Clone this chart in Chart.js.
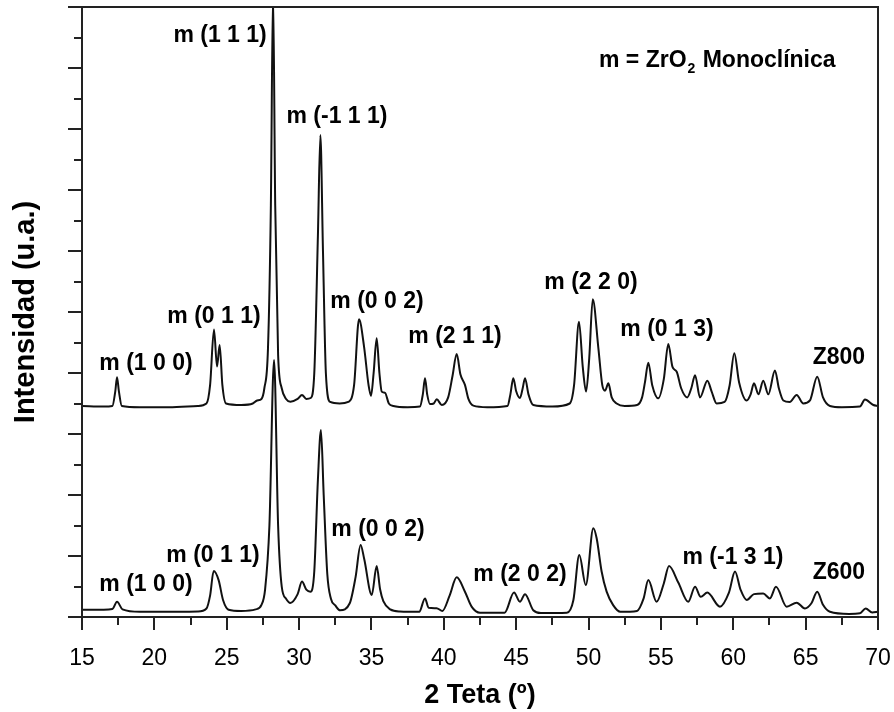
<!DOCTYPE html>
<html>
<head>
<meta charset="utf-8">
<script src="https://cdn.jsdelivr.net/npm/chart.js@4.4.1/dist/chart.umd.min.js"></script>
<style>
  html, body { margin: 0; padding: 0; background: #fff; }
  #wrap { width: 894px; height: 712px; position: relative; }
</style>
</head>
<body>
<div id="wrap"><canvas id="xrdChart"></canvas></div>
<script>
// 2 theta values and intensity (a.u.)
const z800X = [15.0, 16.5, 17.1, 17.3, 17.42, 17.55, 17.75, 19.0, 21.0, 23.0, 23.6, 23.85, 24.12, 24.33, 24.51, 24.7, 24.95,
  26.0, 26.8, 27.1, 27.4, 27.6, 27.85, 28.05, 28.2, 28.35, 28.55, 28.8, 29.1, 29.4, 29.9, 30.2, 30.5, 30.8,
  31.05, 31.3, 31.47, 31.65, 31.85, 32.15, 32.8, 33.4, 33.8, 34.14, 34.49, 34.8, 34.97, 35.15, 35.36, 35.55,
  35.71, 35.94, 36.2, 36.51, 37.5, 38.35, 38.55, 38.7, 38.85, 39.05, 39.3, 39.51, 39.86, 40.3, 40.6, 40.89,
  41.15, 41.46, 41.7, 42.04, 43.0, 44.4, 44.6, 44.8, 45.0, 45.26, 45.45, 45.61, 45.85, 46.18, 47.5, 48.7,
  49.0, 49.34, 49.6, 49.83, 50.05, 50.29, 50.68, 50.95, 51.14, 51.37, 51.6, 51.94, 52.5, 53.35, 53.7, 53.9,
  54.13, 54.4, 54.82, 55.2, 55.51, 55.8, 56.09, 56.4, 56.82, 57.1, 57.36, 57.7, 58.21, 58.5, 58.85, 59.4,
  59.75, 60.07, 60.4, 60.93, 61.2, 61.43, 61.74, 62.07, 62.42, 62.88, 63.15, 63.46, 63.9, 64.38, 64.84,
  65.3, 65.8, 66.2, 66.68, 67.5, 68.75, 69.1, 69.68, 70.0];
const z800Y = [6.92, 6.90, 6.92, 7.4, 7.86, 7.4, 6.92, 6.88, 6.88, 6.92, 7.0, 7.6, 9.43, 8.21, 8.92, 7.6, 7.0,
  6.95, 7.0, 7.1, 7.15, 7.5, 8.8, 13.5, 20.5, 13.5, 8.6, 7.5, 7.15, 7.06, 7.15, 7.28, 7.15, 7.18,
  8.0, 12.5, 15.8, 12.0, 8.0, 7.05, 7.0, 7.05, 7.6, 9.76, 8.86, 7.6, 7.25, 8.0, 9.14, 8.0,
  7.39, 7.35, 7.0, 6.92, 6.88, 6.9, 7.3, 7.83, 7.3, 6.98, 7.0, 7.14, 6.95, 7.2, 7.9, 8.62,
  7.95, 7.61, 7.15, 6.93, 6.88, 6.92, 7.3, 7.83, 7.4, 7.18, 7.5, 7.83, 7.3, 6.95, 6.9, 7.0,
  7.6, 9.68, 8.2, 7.39, 8.5, 10.42, 8.81, 7.6, 7.42, 7.66, 7.2, 7.0, 6.92, 6.95, 7.2, 7.7,
  8.34, 7.6, 7.17, 7.8, 8.95, 8.2, 8.04, 7.5, 7.2, 7.5, 7.93, 7.2, 7.75, 7.4, 7.0, 7.05,
  7.6, 8.65, 7.7, 7.1, 7.3, 7.66, 7.3, 7.75, 7.3, 8.08, 7.5, 7.1, 7.05, 7.28, 7.0,
  7.1, 7.88, 7.2, 6.92, 6.88, 6.9, 7.13, 6.95, 6.92];

const z600X = [15.0, 16.5, 17.1, 17.42, 17.8, 19.0, 21.0, 23.0, 23.6, 23.85, 24.1, 24.44, 24.75, 25.13, 26.0, 27.0,
  27.4, 27.65, 27.95, 28.27, 28.55, 28.8, 29.1, 29.39, 29.9, 30.2, 30.5, 30.78, 31.05, 31.3, 31.51, 31.7,
  31.95, 32.2, 32.5, 32.83, 33.5, 33.9, 34.25, 34.5, 35.02, 35.36, 35.6, 35.82, 36.3, 36.97, 38.3, 38.7,
  38.95, 39.5, 39.9, 40.4, 40.89, 41.46, 41.92, 42.5, 44.2, 44.85, 45.26, 45.61, 46.18, 46.7, 48.5, 48.95,
  49.36, 49.81, 50.33, 50.56, 50.9, 51.25, 51.7, 52.2, 53.35, 53.8, 54.13, 54.7, 55.2, 55.56, 56.2, 56.89,
  57.36, 57.75, 58.21, 59.08, 59.7, 60.12, 60.5, 60.93, 61.43, 62.07, 62.53, 62.95, 63.69, 64.38, 64.95,
  65.4, 65.8, 66.2, 66.68, 68.0, 68.75, 69.15, 69.6, 70.0];
const z600Y = [0.24, 0.24, 0.26, 0.50, 0.25, 0.17, 0.17, 0.18, 0.28, 0.7, 1.51, 1.21, 0.55, 0.24, 0.2, 0.25,
  0.4, 0.9, 3.0, 8.43, 3.0, 1.0, 0.6, 0.46, 0.75, 1.16, 0.9, 0.83, 1.5, 4.5, 6.13, 4.0,
  1.4, 0.6, 0.38, 0.22, 0.45, 1.3, 2.36, 1.9, 0.72, 1.67, 0.9, 0.52, 0.25, 0.18, 0.17, 0.61,
  0.3, 0.29, 0.2, 0.7, 1.30, 0.83, 0.34, 0.14, 0.14, 0.80, 0.50, 0.75, 0.22, 0.13, 0.14, 0.55,
  2.03, 1.05, 2.91, 2.58, 1.5, 0.83, 0.39, 0.17, 0.2, 0.6, 1.21, 0.50, 1.1, 1.67, 1.13, 0.50,
  0.99, 0.66, 0.80, 0.34, 0.8, 1.49, 0.9, 0.56, 0.75, 0.77, 0.61, 0.99, 0.34, 0.47, 0.28,
  0.45, 0.83, 0.4, 0.17, 0.1, 0.12, 0.28, 0.15, 0.17];

const xTicks = [15, 20, 25, 30, 35, 40, 45, 50, 55, 60, 65, 70];

// peak labels: text, 2 theta, intensity
const peakText = ["m (1 1 1)", "m (-1 1 1)", "m (1 0 0)", "m (0 1 1)", "m (0 0 2)", "m (2 1 1)", "m (2 2 0)", "m (0 1 3)", "Z800",
  "m (1 0 0)", "m (0 1 1)", "m (0 0 2)", "m (2 0 2)", "m (-1 3 1)", "Z600"];
const peakX = [24.54, 32.62, 19.42, 24.12, 35.38, 40.77, 50.17, 55.42, 67.30, 19.42, 24.05, 35.45, 45.26, 59.98, 67.30];
const peakY = [19.05, 16.39, 8.30, 9.84, 10.33, 9.18, 10.95, 9.41, 8.49, 1.05, 2.00, 2.85, 1.38, 1.93, 1.44];

const FONT = "'Liberation Sans', Arial, sans-serif";

const toPoints = (xs, ys) => xs.map((x, i) => ({ x: x, y: ys[i] }));

const framePlugin = {
  id: "frame",
  afterDraw(chart) {
    const { ctx, chartArea: a, scales: { x, y } } = chart;
    ctx.save();
    ctx.strokeStyle = "#222";
    ctx.lineWidth = 2;
    ctx.strokeRect(a.left, a.top, a.right - a.left, a.bottom - a.top);

    // x ticks, outward
    ctx.beginPath();
    for (let v = 15; v <= 70; v += 2.5) {
      const px = Math.round(x.getPixelForValue(v));
      const len = v % 5 === 0 ? 13 : 8;
      ctx.moveTo(px, a.bottom);
      ctx.lineTo(px, a.bottom + len);
    }
    // y ticks, outward
    for (let v = 0; v <= 20; v++) {
      const py = Math.round(y.getPixelForValue(v));
      const len = v % 2 === 0 ? 14 : 8;
      ctx.moveTo(a.left, py);
      ctx.lineTo(a.left - len, py);
    }
    ctx.stroke();

    // peak labels
    ctx.fillStyle = "#000";
    ctx.font = "bold 23px " + FONT;
    ctx.textAlign = "center";
    ctx.textBaseline = "middle";
    peakText.forEach((t, i) => {
      ctx.fillText(t, x.getPixelForValue(peakX[i]), y.getPixelForValue(peakY[i]));
    });

    // phase note
    let px = x.getPixelForValue(50.72);
    const py = y.getPixelForValue(18.23);
    ctx.textAlign = "left";
    ctx.fillText("m = ZrO", px, py);
    px += ctx.measureText("m = ZrO").width;
    ctx.font = "bold 14px " + FONT;
    ctx.fillText("2", px + 1, py + 8);
    px += ctx.measureText("2").width + 2;
    ctx.font = "bold 23px " + FONT;
    ctx.fillText(" Monoclínica", px, py);
    ctx.restore();
  }
};

const ctx = document.getElementById("xrdChart");

new Chart(ctx, {
  type: "line",
  data: {
    datasets: [
      {
        label: "Z800",
        data: toPoints(z800X, z800Y),
        borderColor: "#111",
        borderWidth: 2,
        pointRadius: 0,
        cubicInterpolationMode: "monotone",
        fill: false
      },
      {
        label: "Z600",
        data: toPoints(z600X, z600Y),
        borderColor: "#111",
        borderWidth: 2,
        pointRadius: 0,
        cubicInterpolationMode: "monotone",
        fill: false
      }
    ]
  },
  options: {
    responsive: true,
    maintainAspectRatio: false,
    animation: false,
    devicePixelRatio: 1,
    layout: { padding: { top: 7, right: 16, left: 0, bottom: 0 } },
    plugins: {
      legend: { display: false },
      tooltip: { enabled: false }
    },
    scales: {
      x: {
        type: "linear",
        min: 15,
        max: 70,
        afterFit: (s) => { s.height = 95; s.paddingLeft = 0; s.paddingRight = 0; },
        afterBuildTicks: (s) => { s.ticks = xTicks.map(v => ({ value: v })); },
        grid: { display: false, drawTicks: false },
        border: { display: false },
        ticks: {
          color: "#000",
          padding: 30,
          maxRotation: 0,
          font: { family: FONT, size: 23, lineHeight: 1 }
        },
        title: {
          display: true,
          text: "2 Teta (º)",
          color: "#000",
          padding: { top: 0, bottom: 3 },
          font: { family: FONT, size: 27, weight: "bold", lineHeight: 1 }
        }
      },
      y: {
        min: 0,
        max: 20,
        afterFit: (s) => { s.width = 82; },
        grid: { display: false, drawTicks: false },
        border: { display: false },
        ticks: { display: false },
        title: {
          display: true,
          text: "Intensidad (u.a.)",
          color: "#000",
          padding: { top: 11, bottom: 0 },
          font: { family: FONT, size: 29, weight: "bold", lineHeight: 1 }
        }
      }
    }
  },
  plugins: [framePlugin]
});
</script>
</body>
</html>
